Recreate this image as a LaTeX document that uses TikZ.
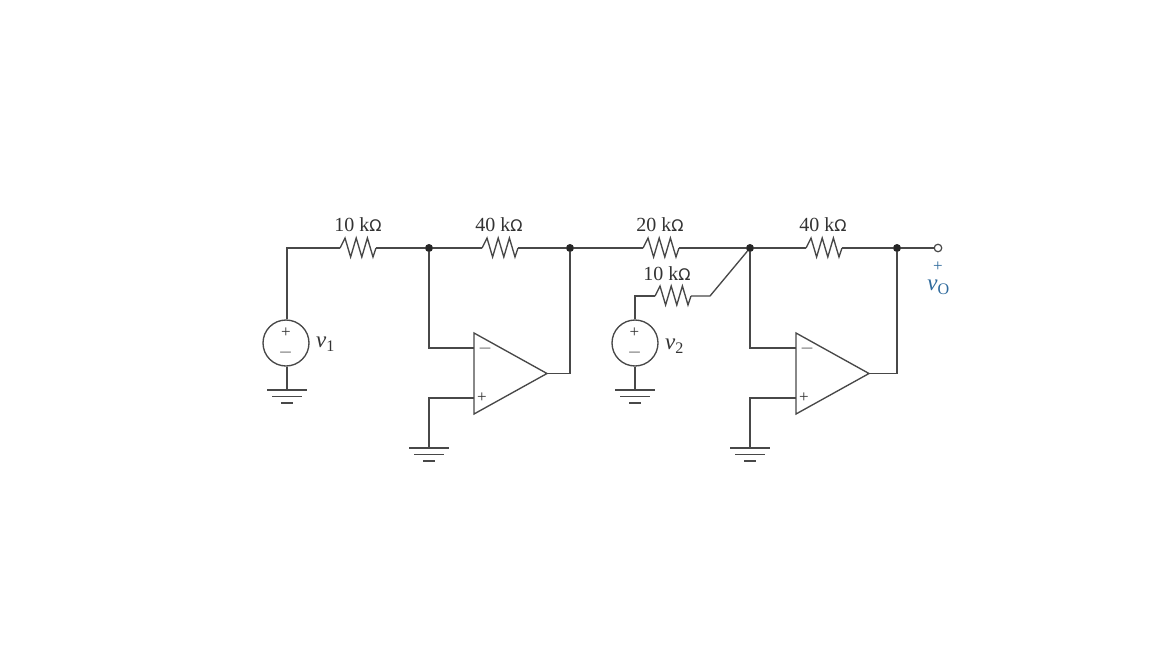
\documentclass[tikz,border=0pt]{standalone}
\usepackage{fontspec}
\setmainfont{Liberation Serif}
\definecolor{wire}{HTML}{484848}
\definecolor{ink}{HTML}{333333}
\definecolor{outblue}{HTML}{2F6A9C}
\newfontfamily\symfont{DejaVu Sans}
\tikzset{
  wireline/.style={draw=wire,line width=1.35pt,line join=miter},
  dot/.style={circle,fill=black!85,draw=none,minimum size=8pt,inner sep=0pt},
  term/.style={circle,fill=white,draw=wire,line width=1.2pt,minimum size=7.5pt,inner sep=0pt},
  source/.style={circle,draw=wire,line width=1.35pt,minimum size=46pt,inner sep=0pt},
  val/.style={text=ink,font=\fontsize{20}{22}\selectfont,inner sep=0pt},
  sym/.style={text=ink,font=\fontsize{23}{24}\selectfont\itshape,inner sep=0pt},
  sgn/.style={text=ink,font=\fontsize{17}{17}\selectfont,inner sep=0pt},
  sgnm/.style={text=black!55,font=\fontsize{21}{21}\selectfont,inner sep=0pt},
}
\newcommand{\ohm}{{\symfont\fontsize{16}{16}\selectfont Ω}}
% name, left x, y
\newcommand{\resis}[3]{%
  \coordinate (#1-a) at (#2,#3);
  \coordinate (#1-b) at (#2+36,#3);
  \draw[wireline] (#1-a) -- ++(5,-10) -- ++(5.6,19) -- ++(5.6,-19) -- ++(5.6,19) -- ++(5.6,-19) -- ++(5.6,19) -- (#1-b);
}
% name, centre x, y
\newcommand{\gnd}[3]{%
  \coordinate (#1) at (#2,#3);
  \draw[wireline] (#2-20,#3) -- (#2+20,#3);
  \draw[wireline] (#2-15,#3+6.5) -- (#2+15,#3+6.5);
  \draw[wireline] (#2-6,#3+13) -- (#2+6,#3+13);
}
% name, left x
\newcommand{\opamp}[2]{%
  \coordinate (#1-t) at (#2,333);
  \coordinate (#1-b) at (#2,414);
  \coordinate (#1-o) at (#2+73,373.5);
  \coordinate (#1-m) at (#2,348);
  \coordinate (#1-p) at (#2,398);
  \draw[wireline] (#1-t) -- (#1-o) -- (#1-b) -- cycle;
  \node[sgnm] at (#2+11,351) {–};
  \node[sgn] at (#2+8,398) {+};
}
\begin{document}
\begin{tikzpicture}[x=1pt,y=-1pt]
\useasboundingbox (0,0) rectangle (1152,648);

\node[source] (s1) at (286,343) {};
\node[source] (s2) at (635,343) {};
\node[sgn] at (286,332.5) {+};
\node[sgnm] at (285.5,355) {–};
\node[sgn] at (634.5,332.5) {+};
\node[sgnm] at (634.5,355) {–};

\resis{r1}{340}{248}
\resis{r2}{482}{248}
\resis{r3}{643}{248}
\resis{r4}{806}{248}
\resis{r5}{655}{296}
\opamp{a1}{474}
\opamp{a2}{796}
\gnd{g1}{287}{390}
\gnd{g2}{429}{448}
\gnd{g3}{635}{390}
\gnd{g4}{750}{448}

\coordinate (c1) at (287,248);
\coordinate (c2) at (635,296);
\coordinate (c3) at (710,296);
\node[dot] (j1) at (429,248) {};
\node[dot] (j2) at (570,248) {};
\node[dot] (j3) at (750,248) {};
\node[dot] (j4) at (897,248) {};
\node[term] (o) at (938,248) {};

\draw[wireline] (c1 |- s1.north) -- (c1) -- (r1-a);
\draw[wireline] (r1-b) -- (j1) -- (r2-a);
\draw[wireline] (r2-b) -- (j2) -- (r3-a);
\draw[wireline] (r3-b) -- (j3) -- (r4-a);
\draw[wireline] (r4-b) -- (j4) -- (o);
\draw[wireline] (s2) -- (c2) -- (r5-a);
\draw[wireline] (r5-b) -- (c3) -- (j3);
\draw[wireline] (c1 |- s1.south) -- (g1);
\draw[wireline] (s2) -- (g3);
\draw[wireline] (j1) |- (a1-m);
\draw[wireline] (g2) |- (a1-p);
\draw[wireline] (a1-o) -| (j2);
\draw[wireline] (j3) |- (a2-m);
\draw[wireline] (g4) |- (a2-p);
\draw[wireline] (a2-o) -| (j4);

\node[val] (t1) at (358,225) {10 k\ohm};
\node[val] (t2) at (499,225) {40 k\ohm};
\node[val] (t3) at (660,225) {20 k\ohm};
\node[val] (t4) at (823,225) {40 k\ohm};
\node[val] (t5) at (667,274) {10 k\ohm};

\node[sym] (v1) at (325.5,344) {v\textsubscript{\upshape 1}};
\node[sym] (v2) at (674.5,346) {v\textsubscript{\upshape 2}};
\node[sgn,text=outblue] (op) at (938,266.5) {+};
\node[sym,text=outblue] (vo) at (938.5,287.5) {v\textsubscript{\upshape O}};
\end{tikzpicture}
\end{document}
